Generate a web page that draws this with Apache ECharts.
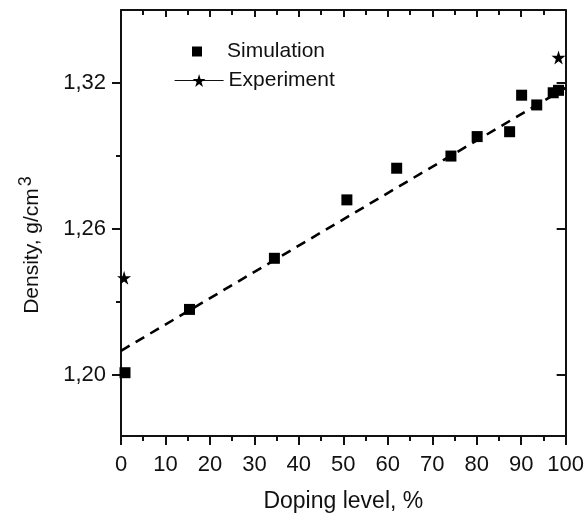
<!DOCTYPE html>
<html>
<head>
<meta charset="utf-8">
<script src="https://cdn.jsdelivr.net/npm/echarts@6/dist/echarts.min.js"></script>
<style>html,body{margin:0;padding:0;background:#fff}#c{width:587px;height:518px}</style>
</head>
<body>
<div id="c"></div>
<script>
// Data
const simX = [0.9, 15.4, 34.5, 50.8, 62.0, 74.2, 80.1, 87.4, 90.1, 93.5, 97.2, 98.4];
const simY = [1.201, 1.227, 1.248, 1.272, 1.285, 1.290, 1.298, 1.300, 1.315, 1.311, 1.316, 1.317];
const expX = [0.7, 98.4];
const expY = [1.240, 1.3305];
const fitX = [0, 100];
const fitY = [1.210, 1.318];
const xTicks = [0, 10, 20, 30, 40, 50, 60, 70, 80, 90, 100];
const yMajorTicks = [1.20, 1.26, 1.32];
const yMinorTicks = [1.23, 1.29];

const FONT = '"Liberation Sans", Arial, sans-serif';
const INK = '#111';
const STAR = 'path://M50,0 L61,35 L98,35 L68,57 L79,91 L50,70 L21,91 L32,57 L2,35 L39,35 Z';
const zip = (a, b) => a.map((v, i) => [v, b[i]]);

const chart = echarts.init(document.getElementById('c'), null, {renderer: 'canvas'});
const lineStyle = {color: INK, width: 2};
const yBase = {type: 'value', min: 1.175, max: 1.35, splitLine: {show: false}, axisLine: {show: true, onZero: false, lineStyle}};

chart.setOption({
  animation: false,
  backgroundColor: '#fff',
  grid: {left: 121, right: 17, top: 10, bottom: 74, containLabel: false},
  xAxis: [
    {
      type: 'value', position: 'bottom', min: 0, max: 100, interval: 10,
      name: 'Doping level, %', nameLocation: 'middle', nameGap: 54,
      nameTextStyle: {fontFamily: FONT, fontSize: 23, color: INK},
      axisLine: {show: true, onZero: false, lineStyle},
      axisTick: {show: true, length: 9, lineStyle: {color: INK, width: 2}},
      minorTick: {show: true, splitNumber: 2, length: 5, lineStyle: {color: INK, width: 2}},
      axisLabel: {fontFamily: FONT, fontSize: 22, color: INK, margin: 18,
        customValues: xTicks, formatter: v => String(v)},
      splitLine: {show: false}
    },
    {
      type: 'value', position: 'top', min: 0, max: 100, interval: 10,
      axisLine: {show: true, onZero: false, lineStyle},
      axisTick: {show: true, inside: true, length: 7, lineStyle: {color: INK, width: 2}},
      minorTick: {show: true, splitNumber: 2, length: 5, lineStyle: {color: INK, width: 2}},
      axisLabel: {show: false}, splitLine: {show: false}
    }
  ],
  yAxis: [
    Object.assign({}, yBase, {
      position: 'left',
      name: 'Density, g/cm{sup|3}', nameLocation: 'middle', nameGap: 74,
      nameTextStyle: {fontFamily: FONT, fontSize: 21, color: INK, padding: [0, 44, 0, 0],
        rich: {sup: {fontFamily: FONT, fontSize: 18, color: INK, verticalAlign: 'bottom', padding: [0, 0, 12, 2]}}},
      axisTick: {show: true, length: 9, customValues: yMajorTicks, lineStyle: {color: INK, width: 2}},
      axisLabel: {fontFamily: FONT, fontSize: 22, color: INK, margin: 15,
        customValues: yMajorTicks, formatter: v => v.toFixed(2).replace('.', ',')}
    }),
    Object.assign({}, yBase, {
      position: 'left', axisLine: {show: false},
      axisTick: {show: true, length: 5, customValues: yMinorTicks, lineStyle: {color: INK, width: 2}},
      axisLabel: {show: false}
    }),
    Object.assign({}, yBase, {
      position: 'right',
      axisTick: {show: true, inside: true, length: 9, customValues: yMajorTicks, lineStyle: {color: INK, width: 2}},
      axisLabel: {show: false}
    }),
    Object.assign({}, yBase, {
      position: 'right', axisLine: {show: false},
      axisTick: {show: true, inside: true, length: 5, customValues: yMinorTicks, lineStyle: {color: INK, width: 2}},
      axisLabel: {show: false}
    })
  ],
  legend: [
    {
      data: ['Simulation'], left: 192, top: 41, padding: 0, orient: 'vertical',
      icon: 'rect', itemWidth: 10, itemHeight: 10,
      itemStyle: {color: '#000', opacity: 1},
      textStyle: {fontFamily: FONT, fontSize: 21, color: INK, padding: [0, 0, 0, 20]}
    },
    {
      data: ['Experiment'], left: 174, top: 70, padding: 0, orient: 'vertical',
      itemWidth: 49, itemHeight: 16,
      lineStyle: {width: 1.2, opacity: 1, color: INK},
      textStyle: {fontFamily: FONT, fontSize: 21, color: INK}
    }
  ],
  series: [
    {
      name: 'Fit', type: 'line', xAxisIndex: 0, yAxisIndex: 0, data: zip(fitX, fitY),
      showSymbol: false, silent: true,
      lineStyle: {color: '#000', width: 2.6, type: [10, 7]}, z: 2
    },
    {
      name: 'Simulation', type: 'scatter', xAxisIndex: 0, yAxisIndex: 0, data: zip(simX, simY),
      symbol: 'rect', symbolSize: 11, itemStyle: {color: '#000', opacity: 1}, z: 3
    },
    {
      name: 'Experiment', type: 'line', xAxisIndex: 0, yAxisIndex: 0, data: zip(expX, expY),
      symbol: STAR, symbolSize: 14, showAllSymbol: true,
      itemStyle: {color: '#000', opacity: 1}, lineStyle: {width: 1, opacity: 0, color: INK}, z: 3
    }
  ]
});
</script>
</body>
</html>
